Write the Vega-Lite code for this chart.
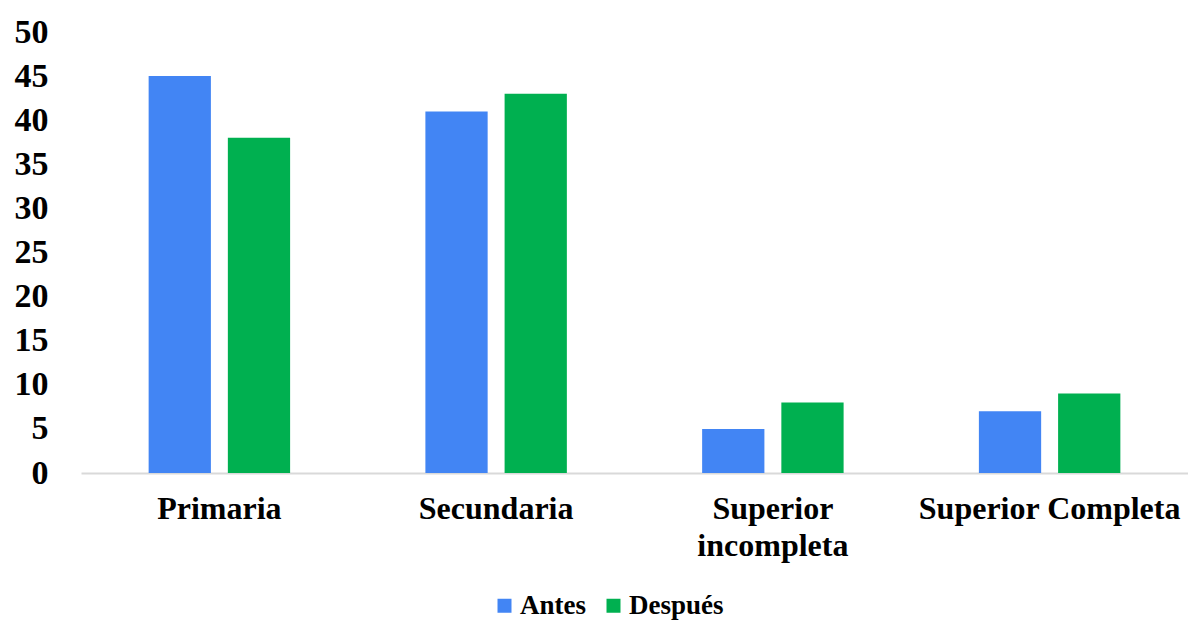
{
  "$schema": "https://vega.github.io/schema/vega-lite/v6.json",
  "autosize": "none",
  "width": 1107,
  "height": 441,
  "padding": {"left": 81, "top": 32, "right": 0, "bottom": 147},
  "background": "white",
  "config": {
    "view": {"stroke": null},
    "font": "Liberation Serif"
  },
  "data": {
    "values": [
      {"nivel": "Primaria", "momento": "Antes", "valor": 45},
      {"nivel": "Primaria", "momento": "Después", "valor": 38},
      {"nivel": "Secundaria", "momento": "Antes", "valor": 41},
      {"nivel": "Secundaria", "momento": "Después", "valor": 43},
      {"nivel": "Superior incompleta", "momento": "Antes", "valor": 5},
      {"nivel": "Superior incompleta", "momento": "Después", "valor": 8},
      {"nivel": "Superior Completa", "momento": "Antes", "valor": 7},
      {"nivel": "Superior Completa", "momento": "Después", "valor": 9}
    ]
  },
  "mark": {"type": "bar"},
  "encoding": {
    "x": {
      "field": "nivel",
      "type": "nominal",
      "sort": ["Primaria", "Secundaria", "Superior incompleta", "Superior Completa"],
      "scale": {"paddingInner": 0.4888, "paddingOuter": 0.2444},
      "axis": {
        "title": null,
        "labelAngle": 0,
        "ticks": false,
        "domainColor": "#d9d9d9",
        "domainWidth": 2,
        "labelFont": "Liberation Serif",
        "labelFontWeight": "bold",
        "labelFontSize": 32,
        "labelColor": "black",
        "labelPadding": 20,
        "labelLineHeight": 37,
        "labelLimit": 400,
        "labelExpr": "datum.value == 'Superior incompleta' ? ['Superior', 'incompleta'] : datum.label"
      }
    },
    "xOffset": {
      "field": "momento",
      "type": "nominal",
      "sort": ["Antes", "Después"],
      "scale": {"paddingInner": 0.214, "paddingOuter": 0}
    },
    "y": {
      "field": "valor",
      "type": "quantitative",
      "scale": {"domain": [0, 50]},
      "axis": {
        "title": null,
        "values": [0, 5, 10, 15, 20, 25, 30, 35, 40, 45, 50],
        "grid": false,
        "domain": false,
        "ticks": false,
        "labelFont": "Liberation Serif",
        "labelFontWeight": "bold",
        "labelFontSize": 34,
        "labelColor": "black",
        "labelPadding": 33
      }
    },
    "color": {
      "field": "momento",
      "type": "nominal",
      "sort": ["Antes", "Después"],
      "scale": {"domain": ["Antes", "Después"], "range": ["#4285F4", "#00B050"]},
      "legend": {
        "title": null,
        "orient": "none",
        "direction": "horizontal",
        "legendX": 410,
        "legendY": 560,
        "symbolType": "square",
        "symbolSize": 196,
        "symbolStrokeWidth": 0,
        "labelFont": "Liberation Serif",
        "labelFontWeight": "bold",
        "labelFontSize": 27,
        "labelColor": "black",
        "labelOffset": 2,
        "columnPadding": 14
      }
    }
  }
}
